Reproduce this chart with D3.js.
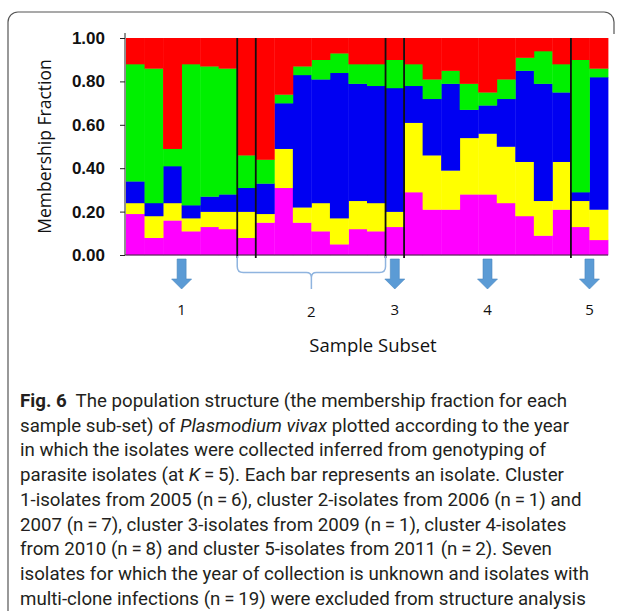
<!DOCTYPE html>
<html>
<head>
<meta charset="utf-8">
<script src="https://cdn.jsdelivr.net/npm/d3@7"></script>
<style>
  body { margin: 0; background: #fff; }
  svg { display: block; }
</style>
</head>
<body>
<div id="chart"></div>
<script>
// isolates per collection year: 2005, 2006, 2007, 2009, 2010, 2011
const groupSizes = [6, 1, 7, 1, 9, 2];
const subsetLabels = ['1', '2', '3', '4', '5'];
const subsetGroups = [[0], [1, 2], [3], [4], [5]];
const yTicks = [0, 0.2, 0.4, 0.6, 0.8, 1.0];

// membership fraction of each isolate in each inferred cluster (K = 5)
const magenta = [0.19, 0.08, 0.16, 0.11, 0.13, 0.12, 0.08, 0.15, 0.31, 0.15, 0.11, 0.05, 0.12, 0.11, 0.13, 0.29, 0.21, 0.21, 0.28, 0.28, 0.24, 0.18, 0.09, 0.21, 0.13, 0.07];
const yellow  = [0.05, 0.10, 0.08, 0.06, 0.07, 0.08, 0.12, 0.04, 0.18, 0.07, 0.13, 0.12, 0.13, 0.13, 0.07, 0.32, 0.25, 0.18, 0.26, 0.28, 0.26, 0.25, 0.16, 0.22, 0.12, 0.14];
const blue    = [0.10, 0.06, 0.17, 0.06, 0.07, 0.08, 0.11, 0.14, 0.21, 0.61, 0.57, 0.67, 0.54, 0.54, 0.57, 0.17, 0.26, 0.40, 0.13, 0.13, 0.22, 0.42, 0.54, 0.32, 0.04, 0.61];
const green   = [0.54, 0.62, 0.08, 0.65, 0.60, 0.58, 0.15, 0.11, 0.04, 0.04, 0.09, 0.09, 0.09, 0.10, 0.13, 0.10, 0.09, 0.06, 0.12, 0.06, 0.09, 0.06, 0.15, 0.13, 0.61, 0.04];
const red     = [0.12, 0.14, 0.51, 0.12, 0.13, 0.14, 0.54, 0.56, 0.26, 0.13, 0.10, 0.07, 0.12, 0.12, 0.10, 0.12, 0.19, 0.15, 0.21, 0.25, 0.19, 0.09, 0.06, 0.12, 0.10, 0.14];

const clusterKeys = ['magenta', 'yellow', 'blue', 'green', 'red'];
const clusterColors = { magenta: '#ff00ff', yellow: '#ffff00', blue: '#0000f2', green: '#00f000', red: '#ff0000' };

const captionLines = [
  [['Fig. 6', 'b'], ['  The population structure (the membership fraction for each']],
  [['sample sub-set) of '], ['Plasmodium vivax', 'i'], [' plotted according to the year']],
  [['in which the isolates were collected inferred from genotyping of']],
  [['parasite isolates (at '], ['K', 'i'], ['\u2009=\u20095). Each bar represents an isolate. Cluster']],
  [['1-isolates from 2005 (n\u2009=\u20096), cluster 2-isolates from 2006 (n\u2009=\u20091) and']],
  [['2007 (n\u2009=\u20097), cluster 3-isolates from 2009 (n\u2009=\u20091), cluster 4-isolates']],
  [['from 2010 (n\u2009=\u20098) and cluster 5-isolates from 2011 (n\u2009=\u20092). Seven']],
  [['isolates for which the year of collection is unknown and isolates with']],
  [['multi-clone infections (n\u2009=\u200919) were excluded from structure analysis']]
];

const width = 622;
const height = 611;
const svg = d3.select('#chart').append('svg')
  .attr('width', width)
  .attr('height', height);
svg.append('rect').attr('width', width).attr('height', height).attr('fill', '#fff');

// frame
svg.append('path')
  .attr('d', 'M8,611 V22 A10,10 0 0 1 18,12 H604 A10,10 0 0 1 614,22 V34')
  .attr('fill', 'none')
  .attr('stroke', '#555')
  .attr('stroke-width', 1.2);

const nIsolates = d3.sum(groupSizes);
const rows = d3.range(nIsolates).map(i => ({
  id: i, magenta: magenta[i], yellow: yellow[i], blue: blue[i], green: green[i], red: red[i]
}));

const x = d3.scaleBand().domain(d3.range(nIsolates)).range([126, 608]).padding(0);
const y = d3.scaleLinear().domain([0, 1]).range([255, 38]);

const stacked = d3.stack().keys(clusterKeys)(rows);

const g = svg.append('g');
g.selectAll('g.layer')
  .data(stacked)
  .enter().append('g')
  .attr('class', 'layer')
  .attr('fill', d => clusterColors[d.key])
  .selectAll('rect')
  .data(d => d)
  .enter().append('rect')
  .attr('x', d => x(d.data.id))
  .attr('y', d => y(d[1]))
  .attr('width', x.bandwidth() + 0.4)
  .attr('height', d => y(d[0]) - y(d[1]) + 0.3);

// bottom line
svg.append('line')
  .attr('x1', 125).attr('x2', 608)
  .attr('y1', y(0)).attr('y2', y(0))
  .attr('stroke', '#333').attr('stroke-width', 1);

// y axis
const yAxis = svg.append('g')
  .attr('transform', 'translate(125,0)')
  .call(d3.axisLeft(y).tickValues(yTicks).tickFormat(d3.format('.2f')).tickSize(5).tickSizeOuter(0).tickPadding(15));
yAxis.select('.domain').remove();
yAxis.append('line')
  .attr('x1', 0).attr('x2', 0)
  .attr('y1', y(1) - 5).attr('y2', y(0))
  .attr('stroke', '#222');
yAxis.selectAll('.tick line').attr('stroke', '#222');
yAxis.selectAll('.tick text')
  .attr('fill', '#111')
  .style('font-family', '"Liberation Sans", Arial, sans-serif')
  .style('font-size', '17px')
  .style('font-weight', 'bold');

svg.append('text')
  .attr('transform', `translate(51,${(y(0) + y(1)) / 2}) rotate(-90)`)
  .attr('text-anchor', 'middle')
  .attr('fill', '#111')
  .style('font-family', '"Open Sans", sans-serif')
  .style('font-size', '17.5px')
  .text('Membership Fraction');

// group dividers
const bounds = d3.cumsum(groupSizes);
svg.selectAll('line.divider')
  .data(Array.from(bounds).slice(0, -1))
  .enter().append('line')
  .attr('class', 'divider')
  .attr('x1', d => x(d)).attr('x2', d => x(d))
  .attr('y1', y(1)).attr('y2', y(0) + 3)
  .attr('stroke', '#111')
  .attr('stroke-width', 1.8);

// subset markers: arrows for single groups, a brace for subset 2
const starts = [0].concat(Array.from(bounds));
const arrowColor = '#5b9bd5';
subsetGroups.forEach((grp, k) => {
  const x0 = x(starts[grp[0]]);
  const x1 = x(starts[grp[grp.length - 1] + 1] - 1) + x.bandwidth();
  const cx = (x0 + x1) / 2;
  if (grp.length === 1) {
    svg.append('path')
      .attr('d', `M${cx - 4.5},259 H${cx + 4.5} V279 H${cx + 10} L${cx},289 L${cx - 10},279 H${cx - 4.5} Z`)
      .attr('fill', arrowColor)
      .attr('stroke', '#4a86c0')
      .attr('stroke-width', 0.6);
  } else {
    const yb = 272.5;
    svg.append('path')
      .attr('d', `M${x0},256 V${yb - 6} Q${x0},${yb} ${x0 + 6},${yb} H${cx - 5} Q${cx},${yb} ${cx},${yb + 5} V289 M${cx},${yb + 5} Q${cx},${yb} ${cx + 5},${yb} H${x1 - 6} Q${x1},${yb} ${x1},${yb - 6} V256`)
      .attr('fill', 'none')
      .attr('stroke', '#8fb4df')
      .attr('stroke-width', 1.5);
  }
  svg.append('text')
    .attr('x', cx)
    .attr('y', grp.length === 1 ? 315 : 317)
    .attr('text-anchor', 'middle')
    .attr('fill', '#111')
    .style('font-family', '"Open Sans", sans-serif')
    .style('font-size', '15px')
    .text(subsetLabels[k]);
});

svg.append('text')
  .attr('x', 373)
  .attr('y', 352)
  .attr('text-anchor', 'middle')
  .attr('fill', '#111')
  .style('font-family', '"Open Sans", sans-serif')
  .style('font-size', '18.5px')
  .text('Sample Subset');

// caption
const cap = svg.append('g')
  .style('font-family', 'Roboto, sans-serif')
  .style('font-size', '18.7px')
  .attr('fill', '#231f20');
captionLines.forEach((segs, i) => {
  const t = cap.append('text')
    .attr('x', 20)
    .attr('y', 407 + i * 24.7)
    .attr('xml:space', 'preserve');
  segs.forEach(s => {
    t.append('tspan')
      .style('font-weight', s[1] === 'b' ? 'bold' : null)
      .style('font-style', s[1] === 'i' ? 'italic' : null)
      .text(s[0]);
  });
});
</script>
</body>
</html>
